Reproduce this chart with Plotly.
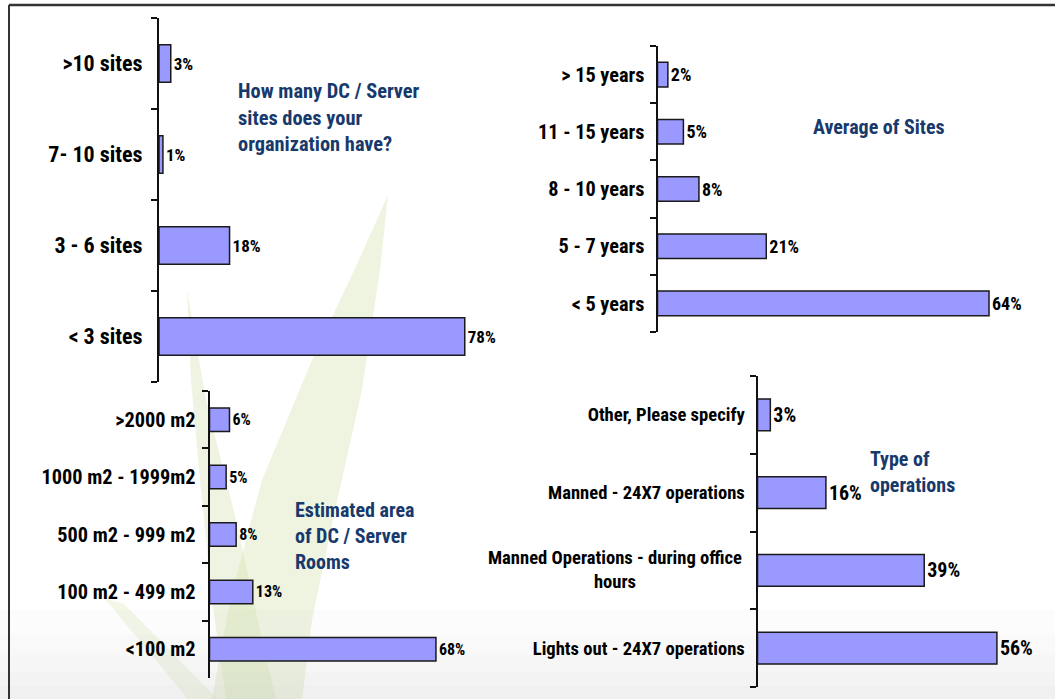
import plotly.graph_objects as go

W, H = 1055, 699

# ---------------- data ----------------
sites_cats = [">10 sites", "7- 10 sites", "3 - 6 sites", "< 3 sites"]
sites_vals = [3, 1, 18, 78]

age_cats = ["> 15 years", "11 - 15 years", "8 - 10 years", "5 - 7 years", "< 5 years"]
age_vals = [2, 5, 8, 21, 64]

area_cats = [">2000 m2", "1000 m2 - 1999m2", "500 m2 - 999 m2", "100 m2 - 499 m2", "<100 m2"]
area_vals = [6, 5, 8, 13, 68]

ops_cats = ["Other, Please specify", "Manned - 24X7 operations",
            "Manned Operations - during office<br>hours", "Lights out - 24X7 operations"]
ops_vals = [3, 16, 39, 56]

titles = [
    "How many DC / Server<br>sites does your<br>organization have?",
    "Average of Sites",
    "Estimated area<br>of DC / Server<br>Rooms",
    "Type of<br>operations",
]

FONT = "Roboto Condensed, Open Sans Condensed, Liberation Sans Narrow, Arial Narrow, sans-serif"
BAR = "#9999ff"
TITLE_C = "#17396b"


def px(x):
    return x / W


def py(y):
    return 1 - y / H


# panel layout: axis x (px), top y, bottom y, x max value, px per unit, bar width,
# tick label size, data label size, label standoff
panels = [
    dict(cats=sites_cats, vals=sites_vals, x0=159, y0=18, y1=382, xmax=100, ppu=3.92, bw=0.41, ts=22, ds=17, so=10),
    dict(cats=age_cats, vals=age_vals, x0=657.5, y0=46, y1=332, xmax=75, ppu=5.18, bw=0.43, ts=20.3, ds=18, so=7),
    dict(cats=area_cats, vals=area_vals, x0=209.5, y0=391, y1=678, xmax=100, ppu=3.33, bw=0.41, ts=20.3, ds=16, so=8),
    dict(cats=ops_cats, vals=ops_vals, x0=757.5, y0=376, y1=687, xmax=65, ppu=4.275, bw=0.41, ts=18.6, ds=20, so=7),
]

fig = go.Figure()
layout = dict(
    width=W, height=H, autosize=False,
    margin=dict(l=0, r=0, t=0, b=0),
    paper_bgcolor="white", plot_bgcolor="rgba(0,0,0,0)",
    showlegend=False,
    font=dict(family=FONT, color="black"),
)

for i, p in enumerate(panels, start=1):
    sx = "" if i == 1 else str(i)
    fig.add_trace(go.Bar(
        x=p["vals"], y=p["cats"], orientation="h",
        xaxis="x" + sx, yaxis="y" + sx,
        width=p["bw"],
        marker=dict(color=BAR, line=dict(color="#1a1a1a", width=1.5)),
        texttemplate="%{x}%", textposition="outside", cliponaxis=False,
        constraintext="none",
        textfont=dict(family=FONT, size=p["ds"], color="black", weight="bold"),
        hoverinfo="skip",
    ))
    x1 = p["x0"] + p["xmax"] * p["ppu"]
    layout["xaxis" + sx] = dict(
        domain=[px(p["x0"]), px(x1)], range=[0, p["xmax"]],
        visible=False, anchor="y" + sx, fixedrange=True,
    )
    ticktext = [("" if "<br>" in c else c) for c in p["cats"]]
    layout["yaxis" + sx] = dict(
        domain=[py(p["y1"]), py(p["y0"])], anchor="x" + sx,
        type="category", categoryorder="array", categoryarray=p["cats"],
        autorange="reversed",
        tickmode="array", tickvals=p["cats"], ticktext=ticktext,
        showline=True, linewidth=2, linecolor="#111",
        ticks="outside", tickson="boundaries", ticklen=6, tickwidth=1.5, tickcolor="#111",
        showgrid=False, zeroline=False,
        ticklabelstandoff=p["so"],
        tickfont=dict(family=FONT, size=p["ts"], color="black", weight="bold"),
        fixedrange=True,
    )

annotations = []
# multi-line category label (lines centred), placed at its category slot
for j, c in enumerate(ops_cats):
    if "<br>" in c:
        annotations.append(dict(
            text=c, xref="paper", yref="y4", x=px(744), y=j,
            xanchor="right", yanchor="middle", align="center", showarrow=False,
            font=dict(family=FONT, size=panels[3]["ts"], color="black", weight="bold"),
        ))

title_pos = [(236, 117, 20.4), (811, 127, 20), (293, 536, 20), (868, 471.5, 20)]
for t, (tx, ty, fs) in zip(titles, title_pos):
    annotations.append(dict(
        text=t, xref="paper", yref="paper", x=px(tx), y=py(ty),
        xanchor="left", yanchor="middle", align="left", showarrow=False,
        font=dict(family=FONT, size=fs, color=TITLE_C, weight="bold"),
    ))
layout["annotations"] = annotations


def path(points):
    return "M " + " L ".join(f"{px(x):.5f},{py(y):.5f}" for x, y in points) + " Z"


shapes = []
# faint background leaves
leaf_big = [(388, 195), (380, 270), (362, 390), (335, 510), (312, 620), (302, 699),
            (212, 699), (230, 600), (262, 480), (312, 360), (358, 262)]
leaf_left = [(187, 290), (206, 400), (236, 520), (262, 640), (276, 699),
             (226, 699), (212, 600), (200, 480), (191, 380)]
leaf_thin = [(104, 598), (124, 604), (218, 699), (188, 699)]
for pts, col, op in [(leaf_big, "#dbe6bd", 0.45), (leaf_left, "#d6e3b4", 0.38), (leaf_thin, "#d6e3b4", 0.3)]:
    shapes.append(dict(type="path", xref="paper", yref="paper", path=path(pts),
                       fillcolor=col, opacity=op, line=dict(width=0), layer="below"))
# soft grey ground towards the bottom
for gy in [610, 635, 655, 672, 686]:
    shapes.append(dict(type="rect", xref="paper", yref="paper", x0=0, x1=1, y0=0, y1=py(gy),
                       fillcolor="#cfcfcf", opacity=0.06, line=dict(width=0), layer="below"))
# frame (top and left edges)
shapes.append(dict(type="line", xref="paper", yref="paper", x0=px(9), x1=1, y0=py(5), y1=py(5),
                   line=dict(color="#333", width=2.5)))
shapes.append(dict(type="line", xref="paper", yref="paper", x0=px(9), x1=px(9), y0=py(5), y1=0,
                   line=dict(color="#333", width=2)))
layout["shapes"] = shapes

fig.update_layout(**layout)
fig.write_html("out.html", config={"displayModeBar": False},
               post_script="document.body.style.margin='0';")
